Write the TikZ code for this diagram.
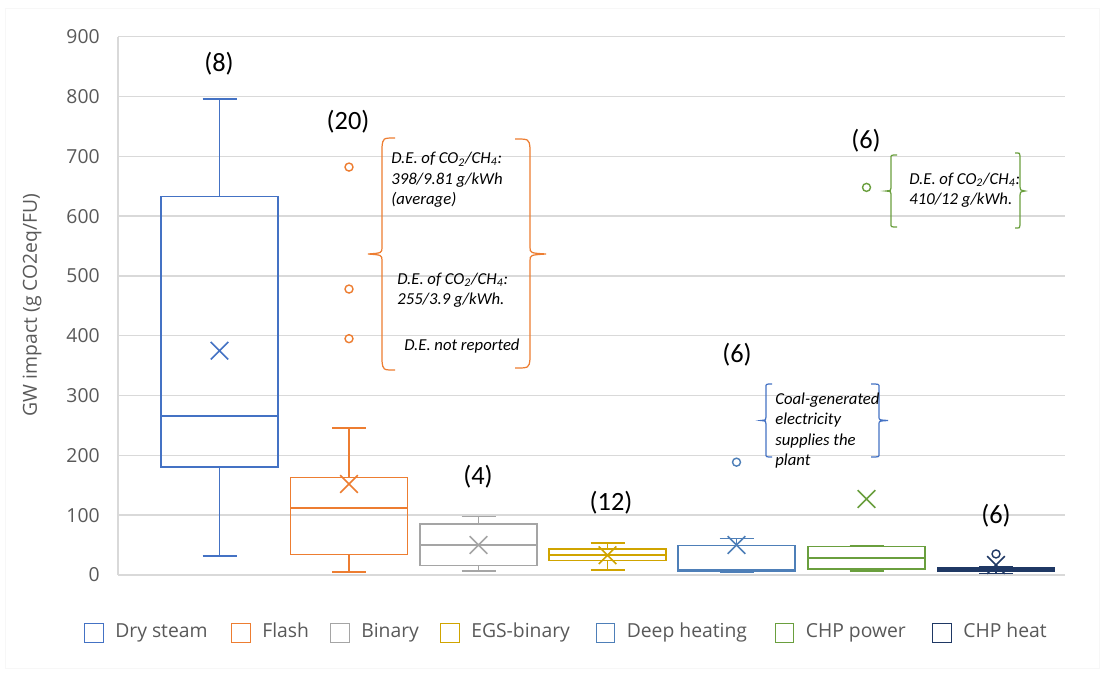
\documentclass[tikz,border=0pt]{standalone}
\usepackage{fontspec}
\setmainfont{Carlito}
\newfontfamily\axisfont{Open Sans}
\usetikzlibrary{positioning, shapes.misc}

\definecolor{drysteam}{HTML}{4472C4}
\definecolor{flash}{HTML}{ED7D31}
\definecolor{binary}{HTML}{A5A5A5}
\definecolor{egs}{HTML}{D0A400}
\definecolor{deepheat}{HTML}{4E7FB8}
\definecolor{chppower}{HTML}{6A9F3E}
\definecolor{chpheat}{HTML}{1F3864}
\definecolor{gridgray}{HTML}{D9D9D9}
\definecolor{labelgray}{HTML}{595959}

% box + whiskers: {colour}{x centre}{min}{q1}{median}{q3}{max}
\newcommand{\gwbox}[7]{
	\draw[#1, boxline] (#2-58.5,#4) rectangle (#2+58.5,#6);
	\draw[#1, boxline] (#2-58.5,#5) -- (#2+58.5,#5);
	\draw[#1, boxline] (#2,#6) -- (#2,#7) (#2-17,#7) -- (#2+17,#7);
	\draw[#1, boxline] (#2,#4) -- (#2,#3) (#2-17,#3) -- (#2+17,#3);
}

\begin{document}
\begin{tikzpicture}[
		x=0.02cm, y=-0.02cm,
		boxline/.style={line width=0.9pt},
		meanmark/.style={cross out, draw, line width=0.9pt, minimum size=0.32cm, inner sep=0pt},
		outlier/.style={circle, draw=#1, fill=white, line width=0.8pt, minimum size=0.16cm, inner sep=0pt},
		tick/.style={anchor=east, inner sep=0pt, text=labelgray, font=\axisfont\fontsize{11}{13}\selectfont},
		count/.style={font=\rmfamily\fontsize{15}{18}\selectfont},
		note/.style={align=left, anchor=west, inner sep=0pt, font=\rmfamily\itshape\fontsize{9.5}{11.6}\selectfont},
		bracket/.style={line width=0.7pt},
		legsq/.style={draw, line width=0.8pt, minimum size=0.37cm, inner sep=0pt},
		legtext/.style={inner sep=0pt, text height=1.5ex, text depth=0.35ex, text=labelgray, font=\axisfont\fontsize{11}{13}\selectfont}
		]
		
		\useasboundingbox (0,0) rectangle (1104,673);
		\fill[white] (0,0) rectangle (1104,673);
		\draw[gray!6] (5,8) rectangle (1099,668);
		
		% ==========================================
		% Axis, grid and data (y in g CO2eq/FU)
		% ==========================================
		\begin{scope}[yshift=-11.5cm, y=0.011956cm]
			\foreach \v in {0,100,...,900} {
				\draw[gridgray, line width=0.8pt] (118,\v) -- (1065,\v);
				\node[tick] (tick\v) at (100,\v) {\v};
			}
			\draw[gridgray, line width=0.8pt] (118,0) -- (118,900);
			
			% Dry steam
			\gwbox{drysteam}{219.5}{32}{180}{266}{633}{796}
			\node[meanmark, drysteam] (meanDry) at (219.5,375) {};
			
			% Flash
			\gwbox{flash}{349}{4.5}{34}{111.5}{163}{246}
			\node[meanmark, flash] (meanFlash) at (349,152) {};
			\node[outlier=flash] (outFlashA) at (349,682) {};
			\node[outlier=flash] (outFlashB) at (349,478) {};
			\node[outlier=flash] (outFlashC) at (349,395) {};
			
			% Binary
			\gwbox{binary}{478.5}{6.5}{15.5}{50}{85}{98}
			\node[meanmark, binary] (meanBinary) at (478.5,50) {};
			
			% EGS-binary
			\gwbox{egs}{607.5}{8.5}{24}{33.5}{43}{53}
			\node[meanmark, egs] (meanEGS) at (607.5,33) {};
			
			% Deep heating
			\gwbox{deepheat}{736.5}{4.5}{7}{9}{49}{61}
			\node[meanmark, deepheat] (meanDeep) at (736.5,50) {};
			\node[outlier=deepheat] (outDeep) at (736.5,188.5) {};
			
			% CHP power
			\gwbox{chppower}{866.5}{6.5}{10}{28}{47.5}{49.5}
			\node[meanmark, chppower] (meanPower) at (866.5,127) {};
			\node[outlier=chppower] (outPower) at (866.5,648) {};
			
			% CHP heat
			\fill[chpheat] (937.5,5.5) rectangle (1054.5,12.5);
			\gwbox{chpheat}{996}{2.5}{5.5}{9}{12.5}{13}
			\node[meanmark, chpheat] (meanHeat) at (996,16.5) {};
			\node[outlier=chpheat] (outHeat) at (996,35) {};
		\end{scope}
		
		\node[rotate=90, text=labelgray, font=\axisfont\fontsize{11}{13}\selectfont] (ytitle) at (32,305) {GW impact (g CO2eq/FU)};
		
		% ==========================================
		% Number of studies per technology
		% ==========================================
		\node[count] (nDry) at (219,64) {(8)};
		\node[count] (nFlash) at (348,122) {(20)};
		\node[count] (nBinary) at (478,477) {(4)};
		\node[count] (nEGS) at (611,503) {(12)};
		\node[count] (nDeep) at (737,355) {(6)};
		\node[count] (nPower) at (866,141) {(6)};
		\node[count] (nHeat) at (996,516) {(6)};
		
		% ==========================================
		% Notes on the outliers
		% ==========================================
		\draw[flash, bracket] (395,138) .. controls (383,138) .. (382,147) -- (382,247)
		.. controls (382,253) .. (368,254) .. controls (382,255) .. (382,261) -- (382,361)
		.. controls (383,370) .. (395,370);
		\draw[flash, bracket] (515,139) .. controls (529,139) .. (530,148) -- (530,247)
		.. controls (530,253) .. (546,254) .. controls (530,255) .. (530,261) -- (530,359)
		.. controls (529,368) .. (515,368);
		\node[note] (noteFlashA) at (391,180) {D.E. of CO\textsubscript{2}/CH\textsubscript{4}:\\398/9.81 g/kWh\\(average)};
		\node[note] (noteFlashB) at (397,290) {D.E. of CO\textsubscript{2}/CH\textsubscript{4}:\\255/3.9 g/kWh.};
		\node[note] (noteFlashC) at (404,346) {D.E. not reported};
		
		\draw[chppower, bracket] (897,155) .. controls (891,155) .. (891,158) -- (891,188)
		.. controls (891,190.5) .. (886,191) .. controls (891,191.5) .. (891,194) -- (891,224)
		.. controls (891,227) .. (897,227);
		\draw[chppower, bracket] (1015,153) .. controls (1020,153) .. (1020,156) -- (1020,187)
		.. controls (1020,190) .. (1025,191) .. controls (1020,192) .. (1020,195) -- (1020,225)
		.. controls (1020,228) .. (1015,228);
		\node[note] (notePower) at (909,190.5) {D.E. of CO\textsubscript{2}/CH\textsubscript{4}:\\410/12 g/kWh.};
		
		\draw[drysteam, bracket] (772,384) .. controls (766,384) .. (766,387) -- (766,417)
		.. controls (766,420) .. (761,420.5) .. controls (766,421) .. (766,424) -- (766,454)
		.. controls (766,457) .. (772,457);
		\draw[drysteam, bracket] (871,384) .. controls (879,384) .. (879,387) -- (879,417)
		.. controls (879,420) .. (888,420.5) .. controls (879,421) .. (879,424) -- (879,454)
		.. controls (879,457) .. (871,457);
		\node[note] (noteDeep) at (775,430.7) {Coal-generated\\electricity\\supplies the\\plant};
		
		% ==========================================
		% Legend
		% ==========================================
		\node[legsq, drysteam] (legDry) at (94,633) {};
		\node[legtext, right=0.22cm of legDry] (legDryText) {Dry steam};
		\node[legsq, flash] (legFlash) at (241,633) {};
		\node[legtext, right=0.22cm of legFlash] (legFlashText) {Flash};
		\node[legsq, binary] (legBinary) at (340,633) {};
		\node[legtext, right=0.22cm of legBinary] (legBinaryText) {Binary};
		\node[legsq, egs] (legEGS) at (450,633) {};
		\node[legtext, right=0.22cm of legEGS] (legEGSText) {EGS-binary};
		\node[legsq, deepheat] (legDeep) at (605.5,633) {};
		\node[legtext, right=0.22cm of legDeep] (legDeepText) {Deep heating};
		\node[legsq, chppower] (legPower) at (784.5,633) {};
		\node[legtext, right=0.22cm of legPower] (legPowerText) {CHP power};
		\node[legsq, chpheat] (legHeat) at (942,633) {};
		\node[legtext, right=0.22cm of legHeat] (legHeatText) {CHP heat};
		
	\end{tikzpicture}
\end{document}
